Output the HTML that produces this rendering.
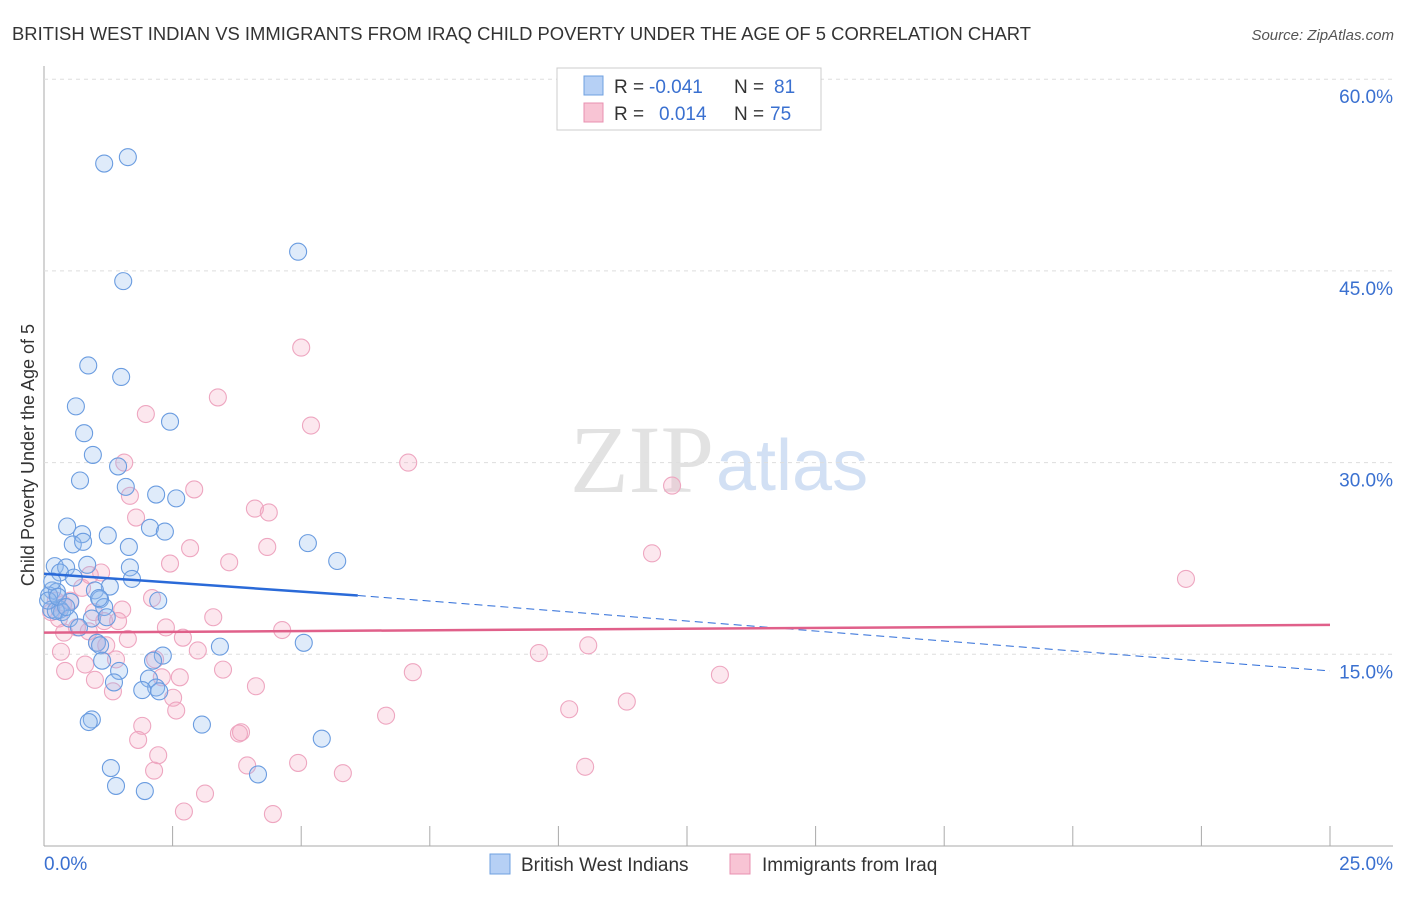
<!DOCTYPE html>
<html><head><meta charset="utf-8"><style>
body{margin:0;background:#fff;font-family:"Liberation Sans",sans-serif}
svg text{font-family:"Liberation Sans",sans-serif}
</style></head><body>
<svg id="c" width="1406" height="892" xmlns="http://www.w3.org/2000/svg">
<text x="12" y="40" font-size="18" fill="#333" textLength="1019" lengthAdjust="spacingAndGlyphs">BRITISH WEST INDIAN VS IMMIGRANTS FROM IRAQ CHILD POVERTY UNDER THE AGE OF 5 CORRELATION CHART</text>
<text x="1394" y="40" font-size="15" fill="#555" font-style="italic" text-anchor="end">Source: ZipAtlas.com</text>
<text x="714" y="492" font-size="96" fill="#e2e2e2" text-anchor="end" style="font-family:'Liberation Serif',serif">ZIP</text>
<text x="716" y="490" font-size="72" fill="#d2e0f4">atlas</text>
<text transform="translate(34,455) rotate(-90)" font-size="18" fill="#333" text-anchor="middle">Child Poverty Under the Age of 5</text>
<g id="grid"></g><g id="pts"></g><g id="lines"></g>
<g>
<rect x="557" y="68" width="264" height="62" fill="#fff" stroke="#ccc"/>
<rect x="584" y="76" width="19" height="19" fill="#b6d0f5" stroke="#6fa0e0"/>
<rect x="584" y="103" width="19" height="19" fill="#f8c4d4" stroke="#e890b0"/>
<text x="614" y="93" font-size="19" fill="#333">R =</text>
<text x="649" y="93" font-size="19" fill="#3a70d0">-0.041</text>
<text x="734" y="93" font-size="19" fill="#333">N =</text>
<text x="774" y="93" font-size="19" fill="#3a70d0">81</text>
<text x="614" y="120" font-size="19" fill="#333">R =</text>
<text x="659" y="120" font-size="19" fill="#3a70d0">0.014</text>
<text x="734" y="120" font-size="19" fill="#333">N =</text>
<text x="770" y="120" font-size="19" fill="#3a70d0">75</text>
</g>
<g>
<rect x="490" y="854" width="20" height="20" fill="#b6d0f5" stroke="#6fa0e0"/>
<text x="521" y="871" font-size="19" fill="#333">British West Indians</text>
<rect x="730" y="854" width="20" height="20" fill="#f8c4d4" stroke="#e890b0"/>
<text x="762" y="871" font-size="19" fill="#333">Immigrants from Iraq</text>
</g>
</svg>
<script>
const yTicks=[15,30,45,60];
const xTickLabels=["0.0%","25.0%"];
const blueX=[1.17,1.63,4.94,1.54,0.86,1.50,0.62,2.45,0.78,0.95,0.70,1.44,1.59,2.18,2.57,0.45,0.74,1.24,2.06,2.35,0.56,0.76,1.65,5.13,5.70,0.21,0.43,0.84,0.31,1.67,0.58,1.71,1.28,0.16,0.25,0.99,0.10,1.09,2.22,0.51,1.17,0.14,0.31,0.35,0.23,0.49,0.93,1.22,0.68,1.03,1.09,3.42,5.05,2.31,2.12,1.13,1.46,2.04,1.36,2.18,1.91,2.24,0.93,0.87,3.07,5.40,1.30,4.16,1.40,1.96,0.16,0.08,0.27,0.43,1.07];
const blueY=[53.4,53.9,46.5,44.2,37.6,36.7,34.4,33.2,32.3,30.6,28.6,29.7,28.1,27.5,27.2,25.0,24.4,24.3,24.9,24.6,23.6,23.8,23.4,23.7,22.3,21.9,21.8,22.0,21.4,21.8,21.0,20.9,20.3,20.0,19.9,20.0,19.6,19.3,19.2,19.1,18.7,18.5,18.5,18.3,18.4,17.8,17.8,17.9,17.1,15.9,15.7,15.6,15.9,14.9,14.5,14.5,13.7,13.1,12.8,12.4,12.2,12.1,9.9,9.7,9.5,8.4,6.1,5.6,4.7,4.3,20.7,19.2,19.5,18.7,19.4];
const pinkX=[5.00,3.38,1.98,5.19,1.56,7.08,12.21,2.92,1.67,4.10,4.37,1.79,2.84,4.34,11.82,2.45,3.60,1.11,22.20,2.10,0.74,0.23,1.52,3.29,0.97,0.29,0.64,0.87,2.37,1.17,4.63,1.44,0.39,1.63,2.70,1.03,1.21,10.58,2.99,0.33,9.62,2.16,1.40,0.80,3.48,7.17,0.41,0.99,2.64,2.29,13.14,4.12,1.34,2.51,11.33,2.57,10.21,6.65,1.91,3.83,3.79,1.83,2.22,2.14,4.94,3.95,10.52,5.81,3.13,2.72,4.45,0.14,0.51,0.89,0.37];
const pinkY=[39.0,35.1,33.8,32.9,30.0,30.0,28.2,27.9,27.4,26.4,26.1,25.7,23.3,23.4,22.9,22.1,22.2,21.4,20.9,19.4,20.2,19.2,18.5,17.9,18.3,17.8,17.1,16.8,17.1,17.6,16.9,17.6,16.7,16.2,16.3,15.9,15.7,15.7,15.3,15.2,15.1,14.6,14.6,14.2,13.8,13.6,13.7,13.0,13.2,13.2,13.4,12.5,12.1,11.6,11.3,10.6,10.7,10.2,9.4,8.9,8.8,8.3,7.1,5.9,6.5,6.3,6.2,5.7,4.1,2.7,2.5,18.3,19.2,21.2,18.9];
const blueTrendX=[0,6.1,25];
const blueTrendY=[21.3,19.6,13.7];
const pinkTrendX=[0,25];
const pinkTrendY=[16.7,17.3];
const NS="http://www.w3.org/2000/svg";
const sx=v=>44+v*51.44, sy=v=>846-v*12.78;
function mk(t,a,p){const e=document.createElementNS(NS,t);for(const k in a)e.setAttribute(k,a[k]);p.appendChild(e);return e;}
const grid=document.getElementById('grid');
mk('line',{x1:44,y1:66,x2:44,y2:846,stroke:'#aaa'},grid);
mk('line',{x1:44,y1:846,x2:1393,y2:846,stroke:'#aaa'},grid);
yTicks.forEach(t=>{
 const l=mk('line',{x1:44,x2:1393,y1:sy(t),y2:sy(t),stroke:'#ddd','stroke-dasharray':'4,4'},grid);
 
 
 const tx=mk('text',{x:1393,y:sy(t)+24,'font-size':19,fill:'#3a70d0','text-anchor':'end'},grid);
 tx.textContent=t.toFixed(1)+'%';
 
 
});
for(let i=1;i<=10;i++){const l=mk('line',{x1:sx(i*2.5),x2:sx(i*2.5),y1:826,y2:846,stroke:'#aaa'},grid);
 
 }
const xl0=mk('text',{x:44,y:870,'font-size':19,fill:'#3a70d0'},grid);xl0.textContent=xTickLabels[0];


const xl1=mk('text',{x:1393,y:870,'font-size':19,fill:'#3a70d0','text-anchor':'end'},grid);xl1.textContent=xTickLabels[1];


const pts=document.getElementById('pts');
pinkX.forEach((x,i)=>{const c=mk('circle',{cx:sx(x),cy:sy(pinkY[i]),r:8.5,fill:'rgba(245,170,195,0.28)',stroke:'#eea6c0','stroke-width':1.1},pts);
 
 });
blueX.forEach((x,i)=>{const c=mk('circle',{cx:sx(x),cy:sy(blueY[i]),r:8.5,fill:'rgba(150,190,240,0.3)',stroke:'#6a9ce0','stroke-width':1.1},pts);
 
 });
const lines=document.getElementById('lines');
const b1=mk('line',{x1:sx(blueTrendX[0]),y1:sy(blueTrendY[0]),x2:sx(blueTrendX[1]),y2:sy(blueTrendY[1]),stroke:'#2a6ad8','stroke-width':2.5},lines);


const b2=mk('line',{x1:sx(blueTrendX[1]),y1:sy(blueTrendY[1]),x2:sx(blueTrendX[2]),y2:sy(blueTrendY[2]),stroke:'#2a6ad8','stroke-width':1,'stroke-dasharray':'8,5'},lines);


const p1=mk('line',{x1:sx(pinkTrendX[0]),y1:sy(pinkTrendY[0]),x2:sx(pinkTrendX[1]),y2:sy(pinkTrendY[1]),stroke:'#e0608a','stroke-width':2.5},lines);


</script>
</body></html>
